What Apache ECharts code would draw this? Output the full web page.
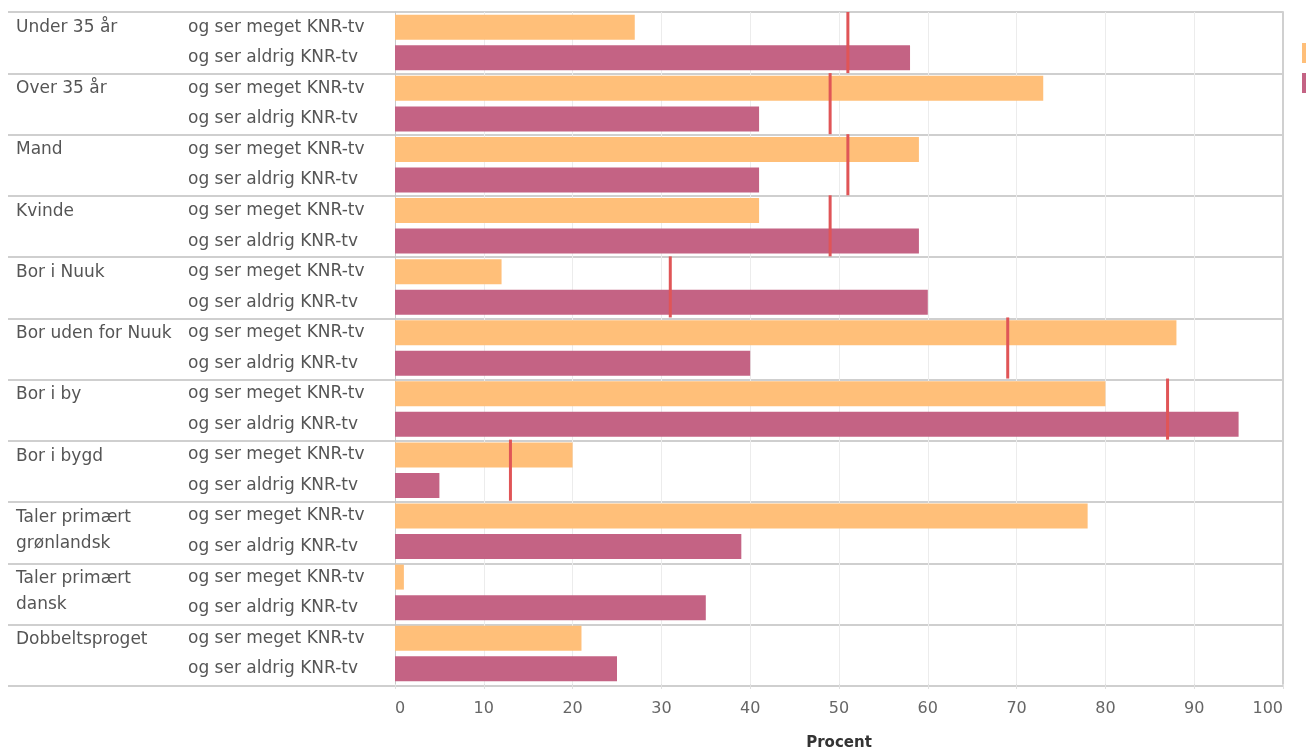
<!DOCTYPE html>
<html>
<head>
<meta charset="utf-8">
<script src="https://cdn.jsdelivr.net/npm/echarts@6/dist/echarts.min.js"></script>
<style>
html,body{margin:0;padding:0;background:#fff;}
#chart{width:1306px;height:756px;}
</style>
</head>
<body>
<div id="chart"></div>
<script>
const groups = ['Under 35 år','Over 35 år','Mand','Kvinde','Bor i Nuuk','Bor uden for Nuuk','Bor i by','Bor i bygd','Taler primært grønlandsk','Taler primært dansk','Dobbeltsproget'];
const subLabels = ['og ser meget KNR-tv','og ser aldrig KNR-tv'];
const meget = [27,73,59,41,12,88,80,20,78,1,21];
const aldrig = [58,41,41,59,60,40,95,5,39,35,25];
const reference = [51,49,51,49,31,69,87,13,null,null,null];
const xMin = 0, xMax = 100, xStep = 10;
const axisTitle = 'Procent';

const FONT = '"DejaVu Sans", sans-serif';
const ORANGE = '#ffbf79';
const PINK = '#c46384';
const RED = '#e05557';

const rows = [];
groups.forEach((g, gi) => subLabels.forEach((s, si) => rows.push(gi + '|' + si)));
const megetData = rows.map((_, i) => i % 2 === 0 ? meget[i / 2] : '-');
const aldrigData = rows.map((_, i) => i % 2 === 1 ? aldrig[(i - 1) / 2] : '-');
const refData = [];
reference.forEach((v, i) => { if (v != null) refData.push([v, i]); });

function wrapGroup(name) {
  if (name.length <= 17) return name;
  const k = name.lastIndexOf(' ');
  return '\n' + name.slice(0, k) + '\n' + name.slice(k + 1);
}

const chart = echarts.init(document.getElementById('chart'), null, {renderer: 'canvas'});
chart.setOption({
  animation: false,
  textStyle: {fontFamily: FONT},
  legend: {
    data: subLabels,
    orient: 'vertical',
    left: 1302,
    top: 43,
    width: 30,
    padding: 0,
    icon: 'rect',
    itemWidth: 14,
    itemHeight: 20,
    itemGap: 10,
    formatter: () => '',
    selectedMode: false
  },
  grid: [
    {left: 8, right: 23, top: 12, bottom: 70, containLabel: false},
    {left: 395, right: 23, top: 12, bottom: 70, containLabel: false}
  ],
  xAxis: [
    {type: 'value', gridIndex: 0, show: false, min: 0, max: 1},
    {
      type: 'value', gridIndex: 1, min: xMin, max: xMax, interval: xStep,
      axisLine: {show: false},
      axisTick: {show: true, length: 5, lineStyle: {color: '#e0e0e0'}},
      splitLine: {show: true, lineStyle: {color: '#ececec', width: 1}},
      axisLabel: {color: '#666', fontSize: 16, margin: 17, fontFamily: FONT,
                  alignMinLabel: 'left', alignMaxLabel: 'right'},
      name: axisTitle, nameLocation: 'middle', nameGap: 52,
      nameTextStyle: {color: '#333', fontSize: 15, fontWeight: 'bold', fontFamily: FONT}
    }
  ],
  yAxis: [
    {
      type: 'category', gridIndex: 0, data: rows, inverse: true,
      axisLine: {show: false}, axisTick: {show: false},
      splitLine: {show: true, interval: (i) => i % 2 === 0, lineStyle: {color: '#cfcfcf', width: 2}},
      axisLabel: {
        interval: 0, align: 'left', margin: -8, color: '#555', fontSize: 17, lineHeight: 26,
        fontFamily: FONT,
        formatter: (v, i) => i % 2 === 0 ? wrapGroup(groups[i / 2]) : ''
      }
    },
    {
      type: 'category', gridIndex: 1, data: rows, inverse: true,
      axisLine: {show: true, lineStyle: {color: '#c8c8c8', width: 1}},
      axisTick: {show: false}, splitLine: {show: false},
      axisLabel: {
        interval: 0, align: 'left', margin: 207, color: '#555', fontSize: 17, fontFamily: FONT,
        formatter: (v, i) => subLabels[i % 2]
      }
    },
    {
      type: 'category', gridIndex: 1, data: groups, inverse: true, position: 'right',
      axisLine: {show: true, lineStyle: {color: '#d0d0d0', width: 2}},
      axisTick: {show: false}, axisLabel: {show: false}, splitLine: {show: false}
    }
  ],
  series: [
    {
      name: subLabels[0], type: 'bar', xAxisIndex: 1, yAxisIndex: 1,
      data: megetData, barWidth: 25, barGap: '-100%',
      itemStyle: {color: ORANGE}
    },
    {
      name: subLabels[1], type: 'bar', xAxisIndex: 1, yAxisIndex: 1,
      data: aldrigData, barWidth: 25, barGap: '-100%',
      itemStyle: {color: PINK}
    },
    {
      name: 'Reference', type: 'custom', xAxisIndex: 1, yAxisIndex: 2, z: 5,
      data: refData, encode: {x: 0, y: 1},
      renderItem: (params, api) => {
        const p = api.coord([api.value(0), api.value(1)]);
        const h = api.size([0, 1])[1];
        return {type: 'rect', shape: {x: p[0] - 1.5, y: p[1] - h / 2, width: 3, height: h},
                style: {fill: RED}};
      }
    }
  ]
});
</script>
</body>
</html>
